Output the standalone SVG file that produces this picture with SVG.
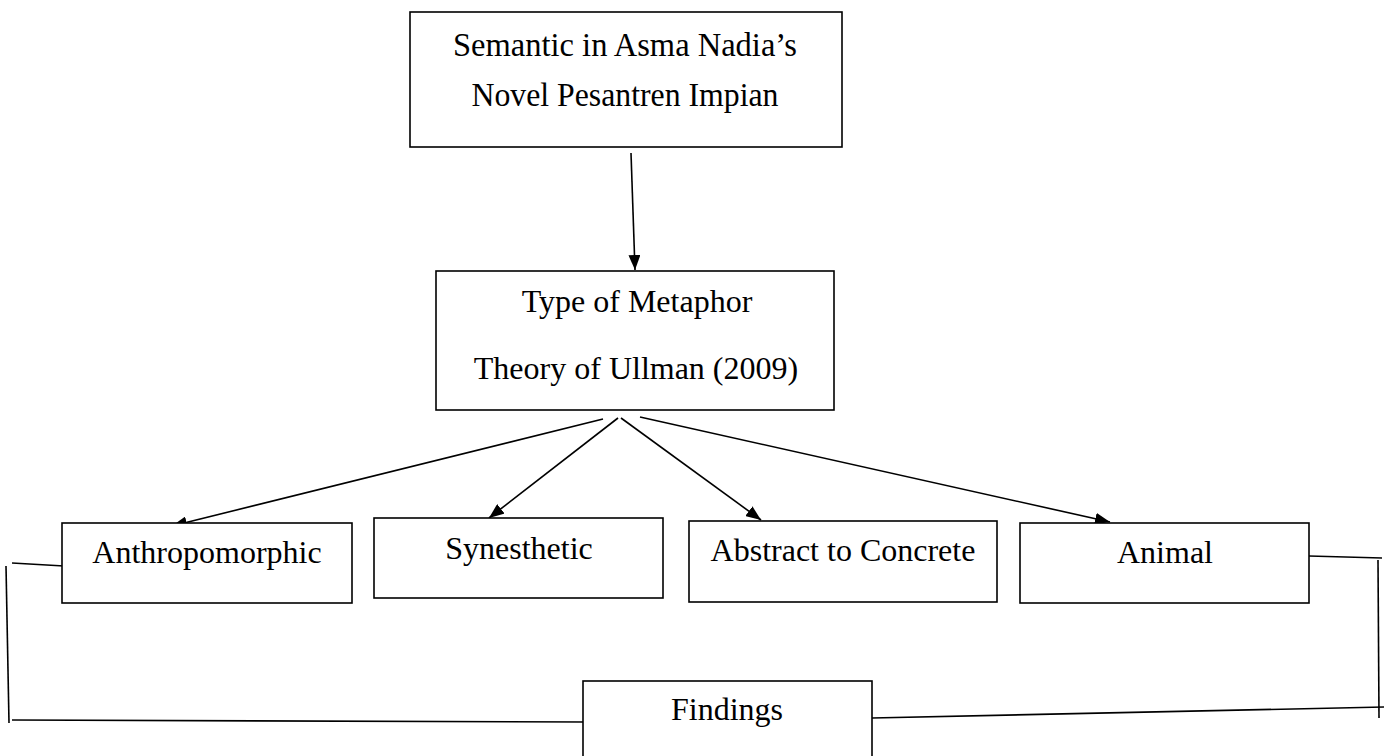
<svg xmlns="http://www.w3.org/2000/svg" width="1392" height="756" viewBox="0 0 1392 756">
<style>
.box{fill:#fff;stroke:#000;stroke-width:1.6}
.t{font-family:"Liberation Serif","Times New Roman",serif;font-size:32px;fill:#000;text-anchor:middle}
.tl{font-size:34px}
.c{fill:none;stroke:#000;stroke-width:1.6}
</style>
<defs>
<marker id="ah" viewBox="0 0 15 12" refX="15" refY="6" markerWidth="15" markerHeight="12" markerUnits="userSpaceOnUse" orient="auto">
<path d="M0,0 L15,6 L0,12 Z" fill="#000"/>
</marker>
</defs>
<rect width="1392" height="756" fill="#fff"/>
<g id="connectors">
<line class="c" x1="631" y1="153" x2="635" y2="270" marker-end="url(#ah)"/>
<line class="c" x1="603" y1="419" x2="172" y2="526" marker-end="url(#ah)"/>
<line class="c" x1="618" y1="418" x2="489" y2="518" marker-end="url(#ah)"/>
<line class="c" x1="621" y1="418" x2="761" y2="520" marker-end="url(#ah)"/>
<line class="c" x1="640" y1="417" x2="1110" y2="522" marker-end="url(#ah)"/>
<line class="c" x1="12" y1="563" x2="64" y2="566"/>
<line class="c" x1="6" y1="566" x2="9" y2="723"/>
<line class="c" x1="12" y1="720" x2="587" y2="722"/>
<line class="c" x1="1309" y1="556" x2="1382" y2="558"/>
<line class="c" x1="1378" y1="560" x2="1379" y2="718"/>
<line class="c" x1="872" y1="718" x2="1384" y2="707"/>
</g>
<g id="node-semantic">
<rect class="box" x="410" y="12" width="432" height="135"/>
<text class="t tl" x="625" y="56" textLength="344" lengthAdjust="spacingAndGlyphs">Semantic in Asma Nadia’s</text>
<text class="t tl" x="625" y="106" textLength="307" lengthAdjust="spacingAndGlyphs">Novel Pesantren Impian</text>
</g>
<g id="node-type">
<rect class="box" x="436" y="271" width="398" height="139"/>
<text class="t" x="637" y="312">Type of Metaphor</text>
<text class="t" x="636" y="379">Theory of Ullman (2009)</text>
</g>
<g id="node-anthropomorphic">
<rect class="box" x="62" y="523" width="290" height="80"/>
<text class="t" x="207" y="563">Anthropomorphic</text>
</g>
<g id="node-synesthetic">
<rect class="box" x="374" y="518" width="289" height="80"/>
<text class="t" x="519" y="559">Synesthetic</text>
</g>
<g id="node-abstract">
<rect class="box" x="689" y="521" width="308" height="81"/>
<text class="t" x="843" y="561">Abstract to Concrete</text>
</g>
<g id="node-animal">
<rect class="box" x="1020" y="523" width="289" height="80"/>
<text class="t" x="1165" y="563">Animal</text>
</g>
<g id="node-findings">
<rect class="box" x="583" y="681" width="289" height="90"/>
<text class="t" x="727" y="720">Findings</text>
</g>
</svg>
